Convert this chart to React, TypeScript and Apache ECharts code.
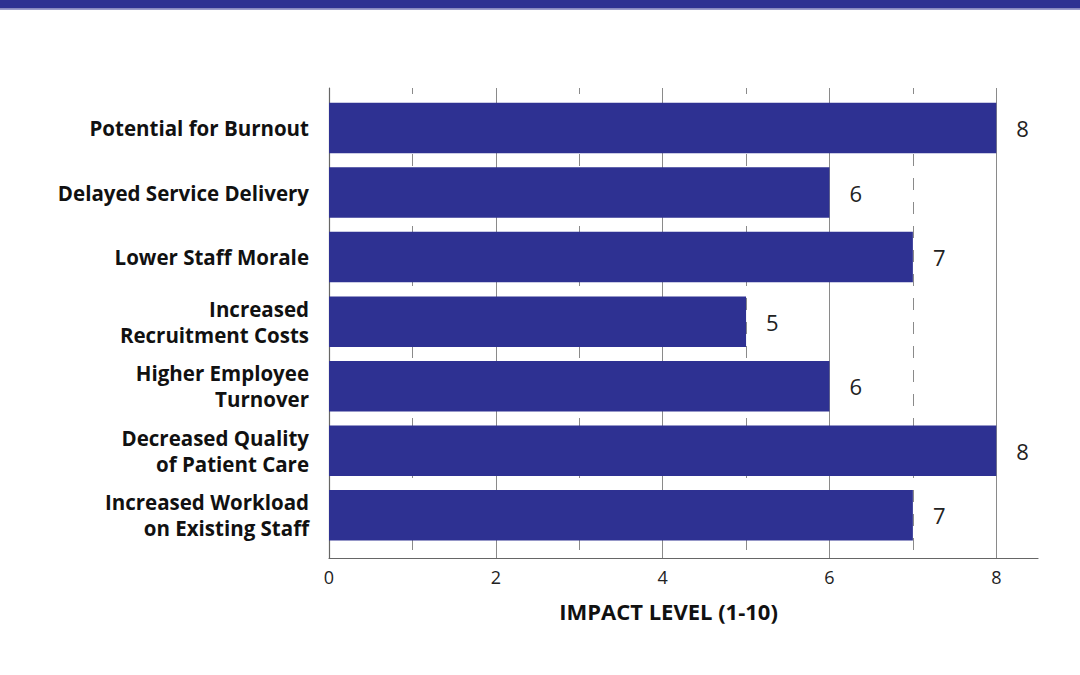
import React, { useEffect, useRef } from "react";
import * as echarts from "echarts";

const categories = [
  "Potential for Burnout",
  "Delayed Service Delivery",
  "Lower Staff Morale",
  "Increased\nRecruitment Costs",
  "Higher Employee\nTurnover",
  "Decreased Quality\nof Patient Care",
  "Increased Workload\non Existing Staff",
];
const values = [8, 6, 7, 5, 6, 8, 7];
const axisName = "IMPACT LEVEL (1-10)";
const xMin = 0;
const xMax = 8.5;

const BLUE = "#2e3192";
const GRID = "#8a8a8a";
const FONT = "'Open Sans', 'DejaVu Sans', sans-serif";

export default function App() {
  const ref = useRef<HTMLDivElement>(null);
  useEffect(() => {
    if (!ref.current) return;
    const chart = echarts.init(ref.current, null, { renderer: "svg" });
    chart.setOption({
      animation: false,
      backgroundColor: "#ffffff",
      graphic: [
        { type: "rect", shape: { x: 0, y: 0, width: 1080, height: 8.5 }, style: { fill: BLUE }, z: 10 },
        { type: "rect", shape: { x: 0, y: 8.5, width: 1080, height: 1.2 }, style: { fill: "#7b7db8" }, z: 10 },
      ],
      grid: [
        { left: 329, right: 42, top: 88, bottom: 117 },
        { left: 329, right: 42, top: 95.7, bottom: 127.4 },
      ],
      xAxis: [
        {
          gridIndex: 0,
          type: "value",
          min: xMin,
          max: xMax,
          interval: 2,
          axisLine: { show: true, lineStyle: { color: "#666", width: 1.2 } },
          axisTick: { show: false },
          axisLabel: {
            show: true,
            showMaxLabel: false,
            margin: 10,
            fontFamily: FONT,
            fontSize: 18,
            color: "#222",
          },
          splitLine: { show: true, showMaxLine: false, lineStyle: { color: GRID, width: 1 } },
          name: axisName,
          nameLocation: "middle",
          nameGap: 42,
          nameTextStyle: {
            fontFamily: FONT,
            fontWeight: "bold",
            fontSize: 22,
            color: "#111",
            padding: [0, 30, 0, 0],
          },
        },
        {
          gridIndex: 0,
          type: "value",
          min: xMin,
          max: xMax,
          interval: 1,
          position: "top",
          axisLine: { show: false },
          axisTick: { show: false },
          axisLabel: { show: false },
          splitLine: {
            show: true,
            showMaxLine: false,
            showMinLine: false,
            lineStyle: { color: GRID, width: 1, type: [12, 12], dashOffset: 6 },
          },
        },
        {
          gridIndex: 1,
          type: "value",
          min: xMin,
          max: xMax,
          show: false,
        },
      ],
      yAxis: [
        {
          gridIndex: 0,
          type: "value",
          min: 0,
          max: 1,
          axisLine: { show: true, lineStyle: { color: "#666", width: 1.2 } },
          axisTick: { show: false },
          axisLabel: { show: false },
          splitLine: { show: false },
        },
        {
          gridIndex: 1,
          type: "category",
          data: categories,
          inverse: true,
          axisLine: { show: false },
          axisTick: { show: false },
          splitLine: { show: false },
          axisLabel: {
            margin: 20,
            fontFamily: FONT,
            fontWeight: "bold",
            fontSize: 20.5,
            lineHeight: 26,
            color: "#111",
            align: "right",
          },
        },
      ],
      series: [
        {
          type: "bar",
          xAxisIndex: 2,
          yAxisIndex: 1,
          data: values,
          barWidth: 50.5,
          itemStyle: { color: BLUE },
          z: 5,
          label: {
            show: true,
            position: "right",
            distance: 20,
            fontFamily: FONT,
            fontSize: 22,
            color: "#222",
          },
        },
      ],
    });
    return () => chart.dispose();
  }, []);
  return (
    <div
      ref={ref}
      style={{ position: "fixed", left: 0, top: 0, width: 1080, height: 675 }}
    />
  );
}
